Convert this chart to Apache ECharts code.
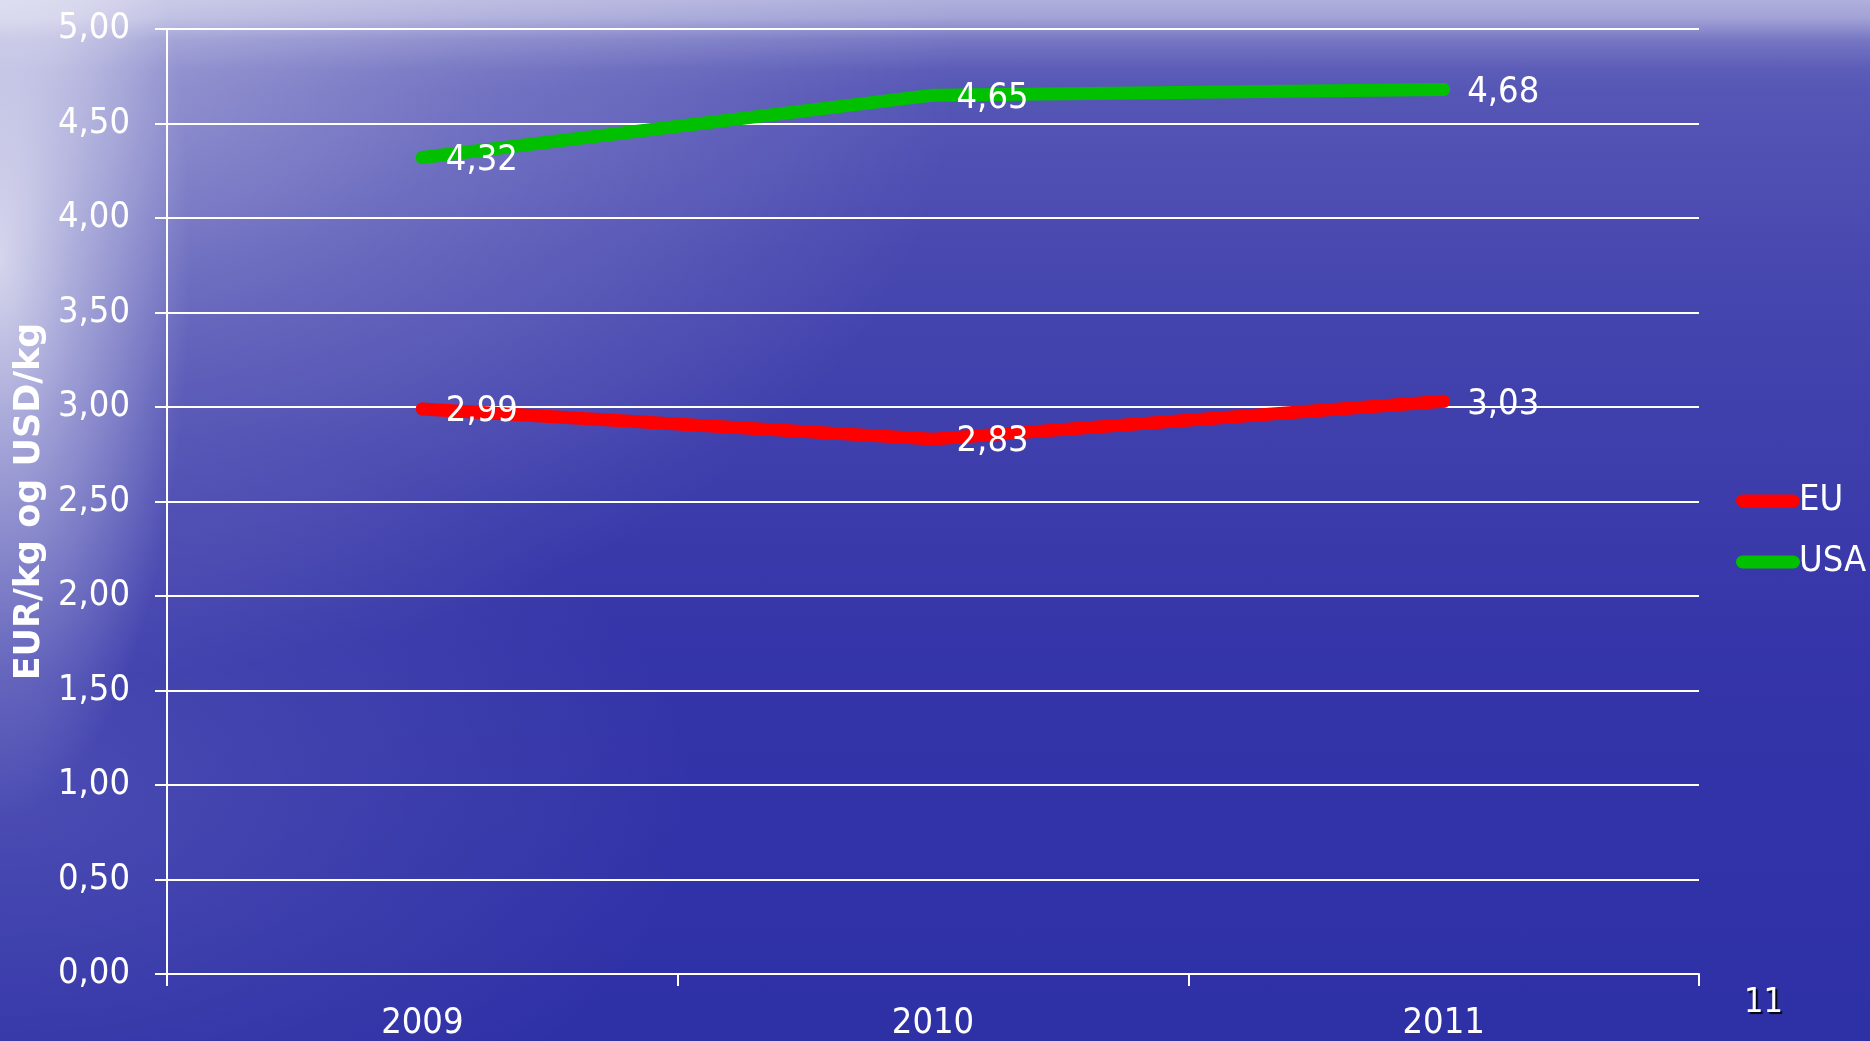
<!DOCTYPE html>
<html>
<head>
<meta charset="utf-8">
<script src="https://cdn.jsdelivr.net/npm/echarts@6/dist/echarts.min.js"></script>
<style>
html,body{margin:0;padding:0;width:1870px;height:1041px;overflow:hidden;}
#bg{position:absolute;left:0;top:0;width:1870px;height:1041px;
background:
 linear-gradient(to bottom, rgba(255,255,255,0.45) 0px, rgba(255,255,255,0.38) 18px, rgba(255,255,255,0.12) 40px, rgba(255,255,255,0) 70px),
 radial-gradient(ellipse 190px 560px at 0px 260px, rgba(255,255,255,0.7) 0%, rgba(255,255,255,0.4) 40%, rgba(255,255,255,0) 100%),
 radial-gradient(ellipse 900px 620px at 60px 60px, rgba(255,255,255,0.4) 0%, rgba(255,255,255,0.18) 45%, rgba(255,255,255,0) 100%),
 radial-gradient(ellipse 700px 400px at 0px 800px, rgba(255,255,255,0.12) 0%, rgba(255,255,255,0) 100%),
 linear-gradient(to bottom, #6e6ec0 0px, #5656b6 90px, #4848b0 250px, #3e3eac 450px, #3535a9 650px, #2e30a6 1041px);}
#chart{position:absolute;left:0;top:0;width:1870px;height:1041px;}
</style>
</head>
<body>
<div id="bg"></div>
<div id="chart"></div>
<script>
const categories = ['2009', '2010', '2011'];
const euValues = [2.99, 2.83, 3.03];
const usaValues = [4.32, 4.65, 4.68];
const seriesNames = ['EU', 'USA'];
const yTicks = { min: 0, max: 5, interval: 0.5 };
const yAxisTitle = 'EUR/kg og USD/kg';
const pageNumber = '11';

const FONT = '"DejaVu Sans Condensed", "DejaVu Sans", sans-serif';
const fmt = v => v.toFixed(2).replace('.', ',');

const chart = echarts.init(document.getElementById('chart'), null, { renderer: 'canvas' });

function lineSeries(name, data, color) {
  return {
    name: name,
    type: 'line',
    data: data,
    symbol: 'circle',
    symbolSize: 13,
    showSymbol: true,
    itemStyle: { color: color },
    lineStyle: { color: color, width: 13, cap: 'round', join: 'round' },
    label: {
      show: true,
      position: 'right',
      distance: 17,
      offset: [0, 3],
      color: '#ffffff',
      fontFamily: FONT,
      fontSize: 36,
      formatter: p => fmt(p.value)
    },
    emphasis: { disabled: true },
    animation: false,
    z: 3
  };
}

chart.setOption({
  backgroundColor: 'transparent',
  animation: false,
  textStyle: { fontFamily: FONT },
  grid: { left: 167, right: 171, top: 29, bottom: 67, containLabel: false, outerBoundsMode: 'none' },
  legend: {
    orient: 'vertical',
    left: 1731,
    top: 476,
    itemWidth: 64,
    itemHeight: 13,
    itemGap: 21,
    icon: 'path://M6.5,0 L57.5,0 A6.5,6.5 0 0 1 57.5,13 L6.5,13 A6.5,6.5 0 0 1 6.5,0 Z',
    textStyle: { color: '#ffffff', fontSize: 36, fontFamily: FONT, lineHeight: 40, padding: [0, 0, 0, -6] },
    data: seriesNames,
    selectedMode: false
  },
  xAxis: {
    type: 'category',
    data: categories,
    boundaryGap: true,
    axisLine: { show: true, lineStyle: { color: '#ffffff', width: 2 } },
    axisTick: { show: true, alignWithLabel: false, length: 12, lineStyle: { color: '#ffffff', width: 2 } },
    axisLabel: { color: '#ffffff', fontSize: 36, fontFamily: FONT, margin: 32 },
    splitLine: { show: false }
  },
  yAxis: {
    type: 'value',
    min: yTicks.min,
    max: yTicks.max,
    interval: yTicks.interval,
    name: yAxisTitle,
    nameLocation: 'middle',
    nameGap: 111,
    nameRotate: 90,
    nameTextStyle: { color: '#ffffff', fontSize: 35, fontWeight: 'bold', fontFamily: '"DejaVu Sans", sans-serif' },
    axisLine: { show: true, lineStyle: { color: '#ffffff', width: 2 } },
    axisTick: { show: true, length: 12, lineStyle: { color: '#ffffff', width: 2 } },
    axisLabel: { color: '#ffffff', fontSize: 36, fontFamily: FONT, margin: 37, formatter: v => fmt(v) },
    splitLine: { show: true, lineStyle: { color: '#ffffff', width: 2 } }
  },
  graphic: [{
    type: 'text',
    left: 1744,
    top: 986,
    style: {
      text: pageNumber,
      fill: '#ffffff',
      fontSize: 34,
      fontFamily: FONT,
      textShadowColor: 'rgba(0,0,0,0.9)',
      textShadowOffsetX: 2,
      textShadowOffsetY: 2,
      textShadowBlur: 1
    }
  }],
  series: [
    lineSeries(seriesNames[0], euValues, '#ff0000'),
    lineSeries(seriesNames[1], usaValues, '#00c000')
  ]
});
</script>
</body>
</html>
